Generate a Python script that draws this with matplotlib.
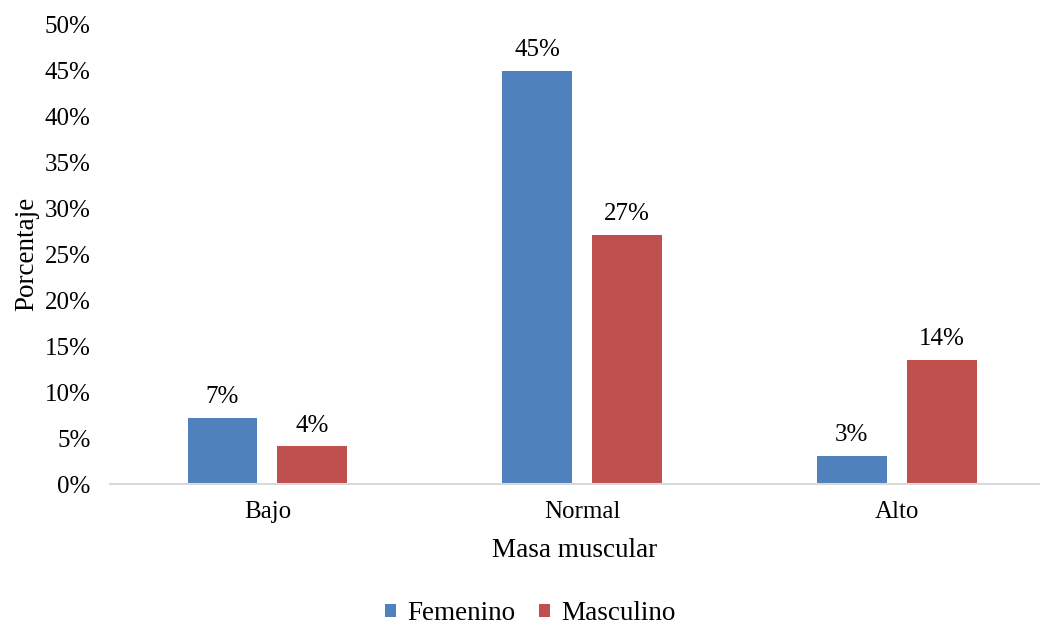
import matplotlib.pyplot as plt
import numpy as np

plt.rcParams['font.family'] = ['Liberation Serif', 'DejaVu Serif']

categorias = ['Bajo', 'Normal', 'Alto']
femenino = [7.2, 44.9, 3.1]
masculino = [4.1, 27.1, 13.5]
series = [('Femenino', femenino, '#4F81BD'), ('Masculino', masculino, '#C0504D')]
yticks = np.arange(0, 55, 5)

fig = plt.figure(figsize=(10.4, 6.3), dpi=100)
ax = fig.add_axes([0.1058, 0.2317, 0.8942, 0.7302])

x = np.arange(len(categorias))
ancho = 0.222
sep = 0.0635
desp = [-(ancho + sep) / 2, (ancho + sep) / 2]

for (nombre, vals, color), d in zip(series, desp):
    barras = ax.bar(x + d, vals, ancho, color=color, label=nombre)
    for b, v in zip(barras, vals):
        ax.annotate(f'{v:.0f}%', (b.get_x() + b.get_width() / 2, v),
                    xytext=(0, 7), textcoords='offset points',
                    ha='center', va='bottom', fontsize=18)

ax.set_xlim(-0.5, 2.455)
ax.set_ylim(0, 50)
ax.set_yticks(yticks)
ax.set_yticklabels([f'{t}%' for t in yticks], fontsize=18)
ax.set_xticks(x)
ax.set_xticklabels(categorias, fontsize=18)
ax.tick_params(length=0)
ax.tick_params(axis='y', pad=14)
ax.tick_params(axis='x', pad=12)

for s in ['top', 'right', 'left']:
    ax.spines[s].set_visible(False)
ax.spines['bottom'].set_color('#D9D9D9')
ax.spines['bottom'].set_linewidth(1.5)

ax.set_xlabel('Masa muscular', fontsize=19.5, labelpad=11)
ax.set_ylabel('Porcentaje', fontsize=19.5, labelpad=4)

fig.legend(loc='center', bbox_to_anchor=(0.51, 0.026), ncol=2, frameon=False,
           fontsize=19.5, handlelength=0.4, handleheight=0.4, handletextpad=0.4,
           columnspacing=0.9, borderpad=0.1)

fig.savefig('out.png', dpi=100)
